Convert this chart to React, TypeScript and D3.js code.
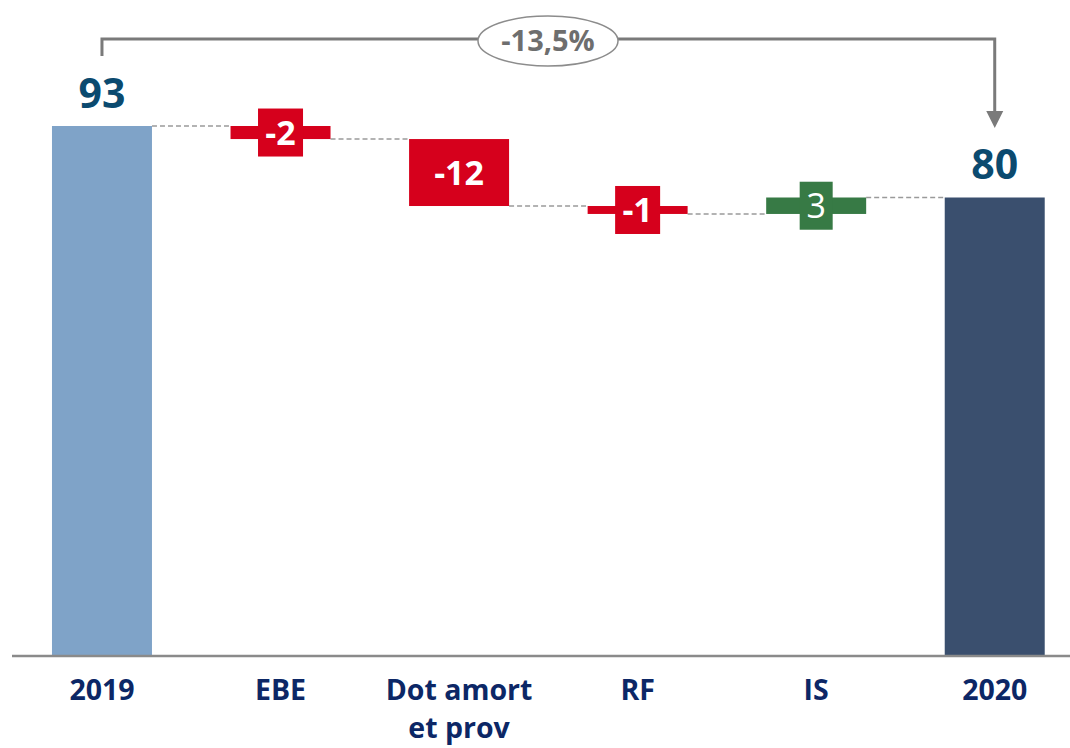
import * as d3 from "d3";

// waterfall data
const categories = ["2019", "EBE", "Dot amort et prov", "RF", "IS", "2020"];
const startValue = 93.4;
const deltas = [-2.3, -11.8, -1.4, 2.9];
const endValue = 80.8;
const valueLabels = ["93", "-2", "-12", "-1", "3", "80"];

const W = 1070;
const H = 748;
const FONT = "'Open Sans', 'Liberation Sans', sans-serif";

export default function App() {
  const x = d3
    .scaleBand()
    .domain(categories)
    .range([12.7, 1084])
    .paddingInner(0.44)
    .paddingOuter(0.22);
  const y = d3.scaleLinear().domain([0, startValue]).range([656, 126]);
  const bw = x.bandwidth();

  // build bars: [from, to]
  let run = startValue;
  const bars = [{ cat: categories[0], lo: 0, hi: startValue, kind: "start" }];
  deltas.forEach((d, i) => {
    const next = run + d;
    bars.push({
      cat: categories[i + 1],
      lo: Math.min(run, next),
      hi: Math.max(run, next),
      kind: d < 0 ? "neg" : "pos",
    });
    run = next;
  });
  bars.push({ cat: categories[5], lo: 0, hi: endValue, kind: "end" });

  // running level after each bar, for the dashed connectors
  const levels = [startValue];
  deltas.forEach((d) => levels.push(levels[levels.length - 1] + d));

  const fill = (k) =>
    k === "start" ? "#7fa3c8" : k === "end" ? "#3a4f6e" : k === "neg" ? "#d6001c" : "#377a45";

  const pct = ((endValue / startValue - 1) * 100).toFixed(1).replace(".", ",") + "%";
  const xs = x(categories[0]) + bw / 2;
  const xe = x(categories[5]) + bw / 2;

  return (
    <svg
      width={W}
      height={H}
      style={{ position: "absolute", left: 0, top: 0, background: "#fff" }}
      fontFamily={FONT}
    >
      {/* dashed connectors */}
      <g stroke="#9a9a9a" strokeWidth={1.5} strokeDasharray="5,3">
        {levels.map((lv, i) => (
          <line
            key={i}
            x1={x(categories[i]) + bw}
            x2={x(categories[i + 1])}
            y1={y(lv)}
            y2={y(lv)}
          />
        ))}
      </g>

      {/* bars */}
      {bars.map((b, i) => {
        const top = y(b.hi);
        const h = y(b.lo) - y(b.hi);
        const cx = x(b.cat) + bw / 2;
        const cy = top + h / 2;
        const isStep = b.kind === "neg" || b.kind === "pos";
        const lbl = valueLabels[i];
        const boxW = 21 + 12 * lbl.length;
        const boxH = 48;
        return (
          <g key={b.cat}>
            <rect x={x(b.cat)} y={top} width={bw} height={h} fill={fill(b.kind)} />
            {isStep && h < boxH && (
              <rect x={cx - boxW / 2} y={cy - boxH / 2} width={boxW} height={boxH} fill={fill(b.kind)} />
            )}
            {isStep ? (
              <text
                x={cx}
                y={cy + 12}
                textAnchor="middle"
                fill="#fff"
                fontSize={34}
                fontWeight={b.kind === "neg" ? 700 : 400}
              >
                {lbl}
              </text>
            ) : (
              <text
                x={cx}
                y={top - 18}
                textAnchor="middle"
                fill="#0b4a6f"
                fontSize={41}
                fontWeight={700}
              >
                {lbl}
              </text>
            )}
          </g>
        );
      })}

      {/* axis line */}
      <line x1={12} x2={W} y1={656} y2={656} stroke="#8a8a8a" strokeWidth={2.5} />

      {/* category labels */}
      {categories.map((c) => {
        const lines = c === "Dot amort et prov" ? ["Dot amort", "et prov"] : [c];
        return lines.map((l, j) => (
          <text
            key={c + j}
            x={x(c) + bw / 2}
            y={700 + j * 38}
            textAnchor="middle"
            fill="#0c2766"
            fontSize={28.5}
            fontWeight={700}
          >
            {l}
          </text>
        ));
      })}

      {/* change bracket */}
      <path
        d={`M${xs},56V39H${xe}V113`}
        fill="none"
        stroke="#7a7a7a"
        strokeWidth={3}
      />
      <path d={`M${xe - 8.5},111L${xe + 8.5},111L${xe},128Z`} fill="#7a7a7a" />
      <ellipse cx={548} cy={41} rx={70} ry={25} fill="#fff" stroke="#8c8c8c" strokeWidth={1.5} />
      <text x={548} y={51} textAnchor="middle" fill="#6e6e6e" fontSize={29} fontWeight={700}>
        {pct}
      </text>
    </svg>
  );
}
